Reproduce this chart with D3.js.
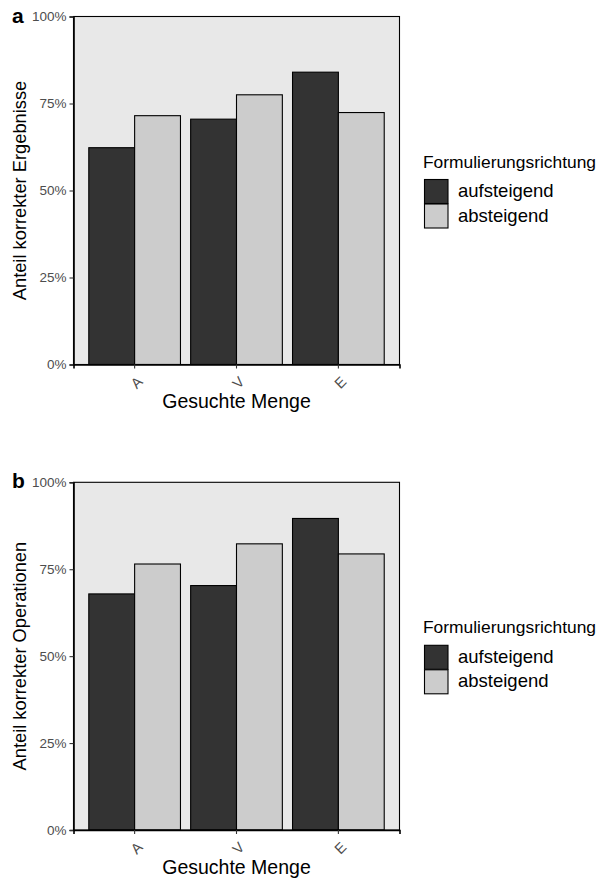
<!DOCTYPE html>
<html>
<head>
<meta charset="utf-8">
<script src="https://cdn.jsdelivr.net/npm/d3@7"></script>
<style>
  html, body { margin: 0; padding: 0; background: #ffffff; }
  svg { display: block; }
  text { font-family: "Liberation Sans", Arial, Helvetica, sans-serif; }
</style>
</head>
<body>
<svg id="chart" width="605" height="879"></svg>
<script>
// ---- data ----
const categories = ["A", "V", "E"];
const series = ["aufsteigend", "absteigend"];
const ergebnisseAufsteigend = [0.623, 0.705, 0.840];
const ergebnisseAbsteigend = [0.715, 0.775, 0.724];
const operationenAufsteigend = [0.679, 0.703, 0.896];
const operationenAbsteigend = [0.765, 0.823, 0.794];
const yTicks = [0, 0.25, 0.5, 0.75, 1];
const yTickLabels = ["0%", "25%", "50%", "75%", "100%"];
const panelLetters = ["a", "b"];
const yTitles = ["Anteil korrekter Ergebnisse", "Anteil korrekter Operationen"];
const xTitle = "Gesuchte Menge";
const legendTitle = "Formulierungsrichtung";

const colors = { "aufsteigend": "#333333", "absteigend": "#cccccc" };
const FONT = '"Liberation Sans", Arial, Helvetica, sans-serif';

const svg = d3.select("#chart");
const left = 73.5, right = 399.5;

function drawPanel(top, bottom, auf, ab, yTitle, letter) {
  const g = svg.append("g");
  const rows = categories.map((c, i) => ({ cat: c, values: [ { s: series[0], v: auf[i] }, { s: series[1], v: ab[i] } ] }));

  const x = d3.scaleBand().domain(categories).range([left, right])
    .paddingInner(0.1).paddingOuter(0.15);
  const xs = d3.scaleBand().domain(series).range([0, x.bandwidth()]).padding(0);
  const y = d3.scaleLinear().domain([0, 1]).range([bottom, top]);

  // panel background
  g.append("rect").attr("x", left).attr("y", top)
    .attr("width", right - left).attr("height", bottom - top)
    .attr("fill", "#e8e8e8");

  // bars
  rows.forEach(r => {
    g.selectAll(null).data(r.values).enter().append("rect")
      .attr("x", d => x(r.cat) + xs(d.s))
      .attr("y", d => y(d.v))
      .attr("width", xs.bandwidth())
      .attr("height", d => y(0) - y(d.v))
      .attr("fill", d => colors[d.s])
      .attr("stroke", "#000")
      .attr("stroke-width", 1.1);
  });

  // border
  g.append("rect").attr("x", left).attr("y", top)
    .attr("width", right - left).attr("height", bottom - top)
    .attr("fill", "none").attr("stroke", "#000").attr("stroke-width", 1.1);

  // y axis
  const yAxis = d3.axisLeft(y).tickValues(yTicks)
    .tickFormat((d, i) => yTickLabels[i]).tickSize(4).tickPadding(3);
  const ya = g.append("g").attr("transform", `translate(${left},0)`).call(yAxis);
  ya.attr("font-size", null).attr("font-family", null);
  ya.select(".domain").attr("stroke", "#000").attr("stroke-width", 1.6);
  ya.selectAll(".tick line").attr("stroke", "#333").attr("stroke-width", 1.1);
  ya.selectAll(".tick text").attr("fill", "#4d4d4d")
    .style("font-family", FONT).style("font-size", "13.5px");

  // x axis
  const xAxis = d3.axisBottom(x).tickSize(4).tickFormat(d => d);
  const xa = g.append("g").attr("transform", `translate(0,${bottom})`).call(xAxis);
  xa.attr("font-size", null).attr("font-family", null);
  xa.select(".domain").attr("stroke", "#000").attr("stroke-width", 1.6);
  xa.selectAll(".tick line").attr("stroke", "#333").attr("stroke-width", 1.1);
  xa.selectAll(".tick text")
    .attr("fill", "#4d4d4d")
    .style("font-family", FONT).style("font-size", "14.5px")
    .attr("text-anchor", "middle")
    .attr("dominant-baseline", "central")
    .attr("y", null).attr("dy", null)
    .attr("transform", "translate(2,18) rotate(-45)");

  // axis titles
  g.append("text")
    .attr("transform", `translate(26,${(top + bottom) / 2}) rotate(-90)`)
    .attr("text-anchor", "middle")
    .style("font-size", "18.3px").attr("fill", "#000")
    .text(yTitle);
  g.append("text")
    .attr("x", (left + right) / 2).attr("y", bottom + 43.5)
    .attr("text-anchor", "middle")
    .style("font-size", "19.5px").attr("fill", "#000")
    .text(xTitle);

  // panel letter
  g.append("text").attr("x", 12).attr("y", top + 6)
    .style("font-size", "21px").style("font-weight", "bold").attr("fill", "#000")
    .text(letter);

  // legend
  const ly = top;
  const lg = g.append("g");
  lg.append("text").attr("x", 423).attr("y", ly + 151)
    .style("font-size", "17.4px").attr("fill", "#000").text(legendTitle);
  series.forEach((s, i) => {
    const ky = ly + 163 + i * 24.5;
    lg.append("rect").attr("x", 424.5).attr("y", ky)
      .attr("width", 23.5).attr("height", 24)
      .attr("fill", colors[s]).attr("stroke", "#000").attr("stroke-width", 1.1);
    lg.append("text").attr("x", 458).attr("y", ky + 17.5)
      .style("font-size", "18.5px").attr("fill", "#000").text(s);
  });
}

drawPanel(16.5, 364.5, ergebnisseAufsteigend, ergebnisseAbsteigend, yTitles[0], panelLetters[0]);
drawPanel(482.3, 830, operationenAufsteigend, operationenAbsteigend, yTitles[1], panelLetters[1]);
</script>
</body>
</html>
